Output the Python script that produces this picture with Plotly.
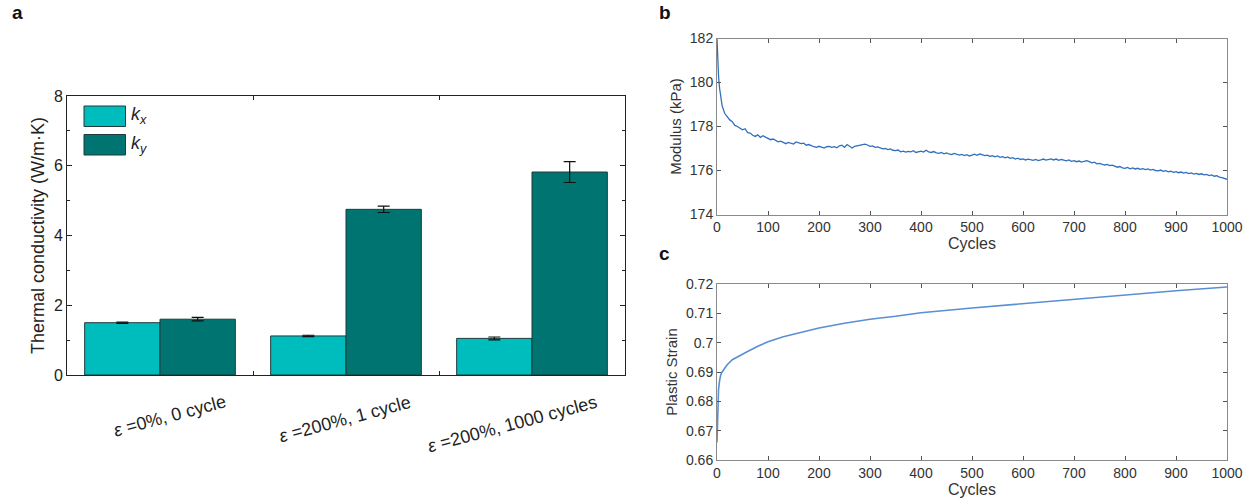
import plotly.graph_objects as go

# ---------------- Panel a data ----------------
categories = ["ε =0%, 0 cycle", "ε =200%, 1 cycle", "ε =200%, 1000 cycles"]
kx_values = [1.50, 1.12, 1.05]
kx_errors = [0.02, 0.02, 0.04]
ky_values = [1.60, 4.75, 5.82]
ky_errors = [0.05, 0.09, 0.30]
series_names = ["k<sub>x</sub>", "k<sub>y</sub>"]
legend_labels = ["<i>k</i><sub><i>x</i></sub>", "<i>k</i><sub><i>y</i></sub>"]

# ---------------- Panel b data ----------------
mod_cycles = [0, 1, 2, 3, 4] + list(range(5, 1001, 5))
mod_values = [
    182.0, 181.2, 180.7, 180.3, 180.0,
    179.75, 178.95, 178.6, 178.45, 178.3, 178.22, 178.05, 178.0, 177.92, 177.85,
    177.9, 177.72, 177.7, 177.6, 177.55, 177.62, 177.5, 177.58, 177.52, 177.45,
    177.4, 177.43, 177.35, 177.3, 177.33, 177.27, 177.22, 177.28, 177.25, 177.2,
    177.3, 177.26, 177.22, 177.24, 177.15, 177.18, 177.12, 177.08, 177.05, 177.1,
    177.06, 177.02, 177.08, 177.1, 177.05, 177.08, 177.03, 177.12, 177.15, 177.05,
    177.18, 177.08, 177.02, 177.1, 177.12, 177.15, 177.18, 177.2, 177.16, 177.1,
    177.12, 177.05, 177.07, 177.02, 176.98, 177.0, 176.95, 176.98, 176.92, 176.9,
    176.93, 176.85, 176.88, 176.84, 176.87, 176.85, 176.9, 176.82, 176.86, 176.88,
    176.84, 176.92, 176.85, 176.82, 176.86, 176.8, 176.78, 176.82, 176.76, 176.8,
    176.75, 176.72, 176.78, 176.74, 176.7, 176.73, 176.68, 176.72, 176.66, 176.7,
    176.74, 176.69, 176.75, 176.72, 176.68, 176.7, 176.64, 176.67, 176.62, 176.66,
    176.6, 176.63, 176.58, 176.62, 176.55, 176.58, 176.52, 176.56, 176.5, 176.53,
    176.48, 176.52, 176.5, 176.46, 176.5, 176.45, 176.48, 176.52, 176.47, 176.5,
    176.53, 176.48, 176.52, 176.46, 176.5, 176.47, 176.44, 176.48, 176.42, 176.45,
    176.4, 176.43, 176.38, 176.42, 176.45, 176.4, 176.35, 176.38, 176.3, 176.32,
    176.27, 176.25, 176.28, 176.22, 176.24, 176.2, 176.15, 176.18, 176.12, 176.1,
    176.14, 176.08, 176.12, 176.07, 176.1, 176.05, 176.08, 176.04, 176.07, 176.02,
    176.05, 176.0, 175.98, 176.02, 175.96, 175.99, 175.94, 175.97, 175.92, 175.95,
    175.9, 175.93, 175.88, 175.91, 175.86, 175.89, 175.84, 175.87, 175.82, 175.85,
    175.8, 175.82, 175.77, 175.8, 175.74, 175.76, 175.7, 175.68, 175.64, 175.6,
]

# ---------------- Panel c data ----------------
strain_cycles = [0, 1, 2, 3, 5, 7, 10, 15, 20, 30, 40, 50, 60, 80, 100, 130, 160,
                 200, 250, 300, 350, 400, 500, 600, 700, 800, 900, 1000]
strain_values = [0.666, 0.677, 0.681, 0.684, 0.6870, 0.6888, 0.690, 0.6915, 0.6925,
                 0.6942, 0.6952, 0.6960, 0.6970, 0.6988, 0.7003, 0.7020, 0.7032,
                 0.7050, 0.7066, 0.7080, 0.7090, 0.7102, 0.7118, 0.7133, 0.7148,
                 0.7163, 0.7177, 0.7190]

cycle_ticks = [0, 100, 200, 300, 400, 500, 600, 700, 800, 900, 1000]
mod_ticks = [174, 176, 178, 180, 182]
strain_ticks = [0.66, 0.67, 0.68, 0.69, 0.70, 0.71, 0.72]
strain_ticklabels = ["0.66", "0.67", "0.68", "0.69", "0.7", "0.71", "0.72"]
k_ticks = [0, 2, 4, 6, 8]

KX_COLOR = "#00BDBD"
KY_COLOR = "#007471"
EDGE = "#1f3b3b"
W, H = 1250, 504


def px_x(p):
    return p / W


def px_y(p):
    return 1 - p / H


FONT = "Liberation Sans, Arial, sans-serif"

fig = go.Figure()

fig.add_trace(go.Bar(
    x=categories, y=kx_values, name=series_names[0],
    marker=dict(color=KX_COLOR, line=dict(color=EDGE, width=1)),
    error_y=dict(type="data", array=kx_errors, color="#111", thickness=1.2, width=6),
    xaxis="x", yaxis="y", showlegend=False,
))
fig.add_trace(go.Bar(
    x=categories, y=ky_values, name=series_names[1],
    marker=dict(color=KY_COLOR, line=dict(color=EDGE, width=1)),
    error_y=dict(type="data", array=ky_errors, color="#111", thickness=1.2, width=6),
    xaxis="x", yaxis="y", showlegend=False,
))

fig.add_trace(go.Scatter(
    x=mod_cycles, y=mod_values, mode="lines",
    line=dict(color="#2f6fbd", width=1.3),
    xaxis="x2", yaxis="y2", showlegend=False,
))
fig.add_trace(go.Scatter(
    x=strain_cycles, y=strain_values, mode="lines",
    line=dict(color="#5a8fd3", width=1.6),
    xaxis="x3", yaxis="y3", showlegend=False,
))

grey_axis = dict(
    showline=True, linecolor="#8a8a8a", linewidth=1, mirror="ticks",
    ticks="inside", ticklen=4, tickcolor="#555", showgrid=False, zeroline=False,
    tickfont=dict(family=FONT, size=14, color="#333"), automargin=False,
)

fig.update_layout(
    width=W, height=H,
    margin=dict(l=0, r=0, t=0, b=0, autoexpand=False),
    paper_bgcolor="white", plot_bgcolor="white",
    font=dict(family=FONT, color="#222"),
    barmode="group", bargap=0.19, bargroupgap=0,
    xaxis=dict(
        domain=[px_x(67), px_x(625)], anchor="y",
        range=[-0.5, 2.5], showticklabels=False, automargin=False,
        showline=True, linecolor="#222", linewidth=1, mirror="ticks",
        ticks="inside", tickson="boundaries", ticklen=4, tickcolor="#222",
        showgrid=False, zeroline=False,
    ),
    yaxis=dict(
        domain=[px_y(375), px_y(96)], anchor="x", automargin=False,
        range=[0, 8], tickvals=k_ticks,
        showline=True, linecolor="#222", linewidth=1, mirror="ticks",
        ticks="inside", ticklen=5, tickcolor="#222",
        minor=dict(ticks="inside", dtick=1, ticklen=3, tickcolor="#222"),
        showgrid=False, zeroline=False,
        tickfont=dict(family=FONT, size=16, color="#222"),
        title=dict(text="Thermal conductivity (W/m·K)",
                   font=dict(family=FONT, size=18, color="#222"), standoff=4),
    ),
    xaxis2=dict(
        grey_axis, domain=[px_x(717), px_x(1227)], anchor="y2",
        range=[0, 1000], tickvals=cycle_ticks,
        title=dict(text="Cycles", font=dict(family=FONT, size=16, color="#333"), standoff=0),
    ),
    yaxis2=dict(
        grey_axis, domain=[px_y(214.5), px_y(38.5)], anchor="x2",
        range=[174, 182], tickvals=mod_ticks,
        title=dict(text="Modulus (kPa)", font=dict(family=FONT, size=15, color="#333"), standoff=4),
    ),
    xaxis3=dict(
        grey_axis, domain=[px_x(717), px_x(1227)], anchor="y3",
        range=[0, 1000], tickvals=cycle_ticks,
        title=dict(text="Cycles", font=dict(family=FONT, size=16, color="#333"), standoff=0),
    ),
    yaxis3=dict(
        grey_axis, domain=[px_y(460), px_y(284)], anchor="x3",
        range=[0.66, 0.72], tickvals=strain_ticks, ticktext=strain_ticklabels,
        title=dict(text="Plastic Strain", font=dict(family=FONT, size=15, color="#333"), standoff=4),
    ),
)

annotations = []
# category labels, rotated
for cat in categories:
    annotations.append(dict(
        x=cat, xref="x", y=px_y(389), yref="paper",
        text=cat.replace("ε", "<i>ε</i>"), showarrow=False,
        textangle=-15, xanchor="right", yanchor="top", xshift=70,
        font=dict(family=FONT, size=18, color="#222"),
    ))

# manual legend
legend_colors = [KX_COLOR, KY_COLOR]
legend_tops = [106, 134.5]
shapes = []
for lbl, col, top in zip(legend_labels, legend_colors, legend_tops):
    shapes.append(dict(
        type="rect", xref="paper", yref="paper",
        x0=px_x(84), x1=px_x(125.5), y0=px_y(top + 20.5), y1=px_y(top),
        fillcolor=col, line=dict(color=EDGE, width=1),
    ))
    annotations.append(dict(
        x=px_x(129), y=px_y(top + 10), xref="paper", yref="paper",
        text=lbl, showarrow=False, xanchor="left", yanchor="middle",
        font=dict(family=FONT, size=18, color="#222"),
    ))

# panel letters
for letter, xp, yp in [("a", 10, 12), ("b", 657, 12), ("c", 657, 253)]:
    annotations.append(dict(
        x=px_x(xp), y=px_y(yp), xref="paper", yref="paper",
        text=f"<b>{letter}</b>", showarrow=False, xanchor="left", yanchor="middle",
        font=dict(family=FONT, size=19, color="#111"),
    ))

fig.update_layout(annotations=annotations, shapes=shapes)

fig.write_html(
    "out.html",
    config={"displayModeBar": False},
    post_script="document.body.style.margin='0';document.body.style.padding='0';",
)
